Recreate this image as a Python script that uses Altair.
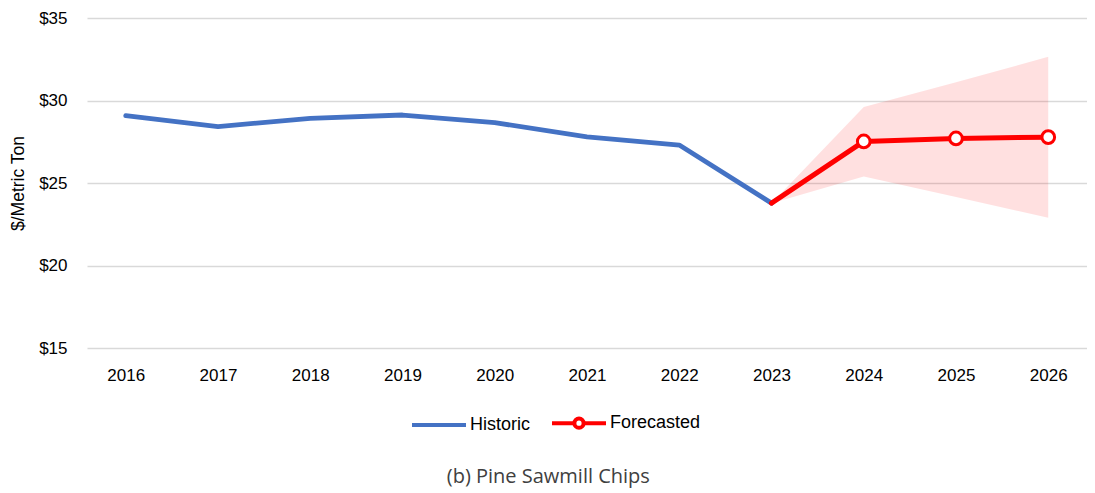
import altair as alt
import pandas as pd

years = [str(y) for y in range(2016, 2027)]
hist_years = years[:8]
historic = [29.08, 28.42, 28.92, 29.12, 28.66, 27.8, 27.3, 23.78]
fc_years = ["2023", "2024", "2025", "2026"]
forecast = [23.78, 27.52, 27.7, 27.78]
upper = [23.78, 29.6, 31.1, 32.65]
lower = [23.78, 25.4, 24.15, 22.9]
series_names = ["Historic", "Forecasted"]

BLUE = "#4472C4"
RED = "#FF0000"
FONT = "Liberation Sans"

hist_df = pd.DataFrame({"year": hist_years, "value": historic})
fc_df = pd.DataFrame({"year": fc_years, "value": forecast, "upper": upper, "lower": lower})
fc_pts = fc_df.iloc[1:]
legend_df = pd.DataFrame({"year": [None, None], "value": [None, None], "series": series_names})

y_scale = alt.Scale(domain=[15, 35], nice=False, zero=False)
x_scale = alt.Scale(type="point", padding=0.42, domain=years)
x_enc = alt.X("year:O", scale=x_scale,
              axis=alt.Axis(title=None, labelAngle=0, ticks=False, domain=False, grid=False,
                            labelPadding=19))
y_axis = alt.Axis(title="$/Metric Ton", values=[15, 20, 25, 30, 35], format="$.0f",
                  ticks=False, domain=False, grid=True, gridColor="#d9d9d9", gridWidth=1.5,
                  labelPadding=20, titlePadding=11, titleFont=FONT, titleFontSize=17.5,
                  titleFontWeight="normal", titleColor="#000000")

band = alt.Chart(fc_df).mark_area(color=RED, opacity=0.12).encode(
    x=x_enc, y=alt.Y("lower:Q", scale=y_scale, axis=y_axis), y2="upper:Q")

hist_line = alt.Chart(hist_df).mark_line(color=BLUE, strokeWidth=4.8, strokeCap="round", strokeJoin="round").encode(
    x=x_enc, y=alt.Y("value:Q", scale=y_scale, axis=y_axis))

fc_line = alt.Chart(fc_df).mark_line(color=RED, strokeWidth=5, strokeCap="round", strokeJoin="round").encode(
    x=x_enc, y=alt.Y("value:Q", axis=y_axis))

fc_points = alt.Chart(fc_pts).mark_point(filled=False, fill="white", stroke=RED, strokeWidth=3,
                                         size=160, opacity=1).encode(
    x=x_enc, y=alt.Y("value:Q", axis=y_axis))

path_hist = "M-1,0L1,0"
path_fc = ("M-1,0L-0.17,0M0.17,0L1,0"
           "M0.17,0A0.17,0.17 0 1 1 -0.17,0A0.17,0.17 0 1 1 0.17,0Z")

leg = alt.Legend(title=None, orient="none", legendX=323, legendY=376, direction="horizontal",
                 symbolSize=2916, symbolStrokeWidth=4, symbolFillColor="white", symbolOpacity=1,
                 labelFont=FONT, labelFontSize=18, labelColor="#000000", labelOffset=2,
                 columnPadding=13, padding=0)

legend_layer = alt.Chart(legend_df).mark_point(filled=False, fill="white", strokeWidth=4,
                                               size=2916, opacity=1).encode(
    x=alt.X("year:O", scale=x_scale),
    y=alt.Y("value:Q", axis=y_axis),
    color=alt.Color("series:N", scale=alt.Scale(domain=series_names, range=[BLUE, RED]), legend=leg),
    shape=alt.Shape("series:N", scale=alt.Scale(domain=series_names, range=[path_hist, path_fc]), legend=leg),
)

chart = alt.layer(band, hist_line, fc_line, fc_points, legend_layer).properties(
    width=1000, height=330,
    padding={"left": 79, "top": 10, "right": 0, "bottom": 145},
    autosize=alt.AutoSizeParams(type="none"),
    title=alt.TitleParams(text="(b) Pine Sawmill Chips", orient="bottom", font="Open Sans",
                          fontSize=20, fontWeight="normal", color="#404040", offset=31,
                          anchor="middle", frame="bounds"),
).configure_view(stroke=None).configure_axis(
    labelFont=FONT, labelFontSize=17, labelColor="#000000",
    titleFont=FONT, titleFontSize=17.5, titleFontWeight="normal", titleColor="#000000",
).configure_axisY(titleFontSize=17.5)

chart.save("out.html", embed_options={"renderer": "svg", "actions": False})
